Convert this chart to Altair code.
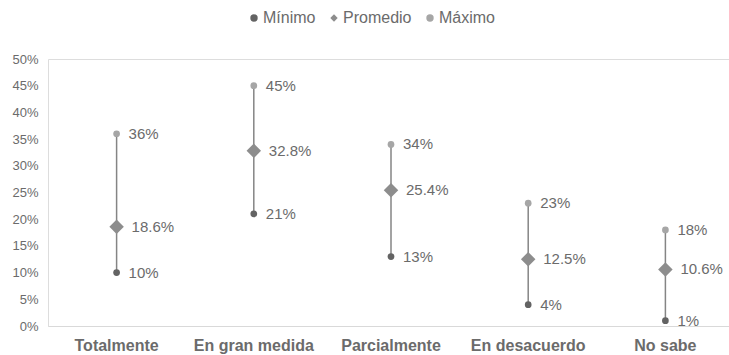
import altair as alt
import pandas as pd

categorias = ["Totalmente", "En gran medida", "Parcialmente", "En desacuerdo", "No sabe"]
minimo = [10, 21, 13, 4, 1]
promedio = [18.6, 32.8, 25.4, 12.5, 10.6]
maximo = [36, 45, 34, 23, 18]
series = ["Mínimo", "Promedio", "Máximo"]
y_ticks = [0, 5, 10, 15, 20, 25, 30, 35, 40, 45, 50]

rows = []
for i, c in enumerate(categorias):
    for s, v in zip(series, [minimo[i], promedio[i], maximo[i]]):
        rows.append({"Categoria": c, "Serie": s, "Valor": v, "Etiqueta": f"{v:g}%"})
long_df = pd.DataFrame(rows)
range_df = pd.DataFrame({"Categoria": categorias, "Min": minimo, "Max": maximo})

FONT = "Liberation Sans"
x_scale = alt.Scale(domain=categorias, range=[0, 686], paddingInner=0, paddingOuter=0)
x_axis = alt.Axis(labelAngle=0, labelFontWeight="bold", labelFontSize=16,
                  labelColor="#6b6b6b", ticks=False, domainColor="#d9d9d9",
                  labelPadding=11, labelFont=FONT)
y_scale = alt.Scale(domain=[0, 50], nice=False)
y_axis = alt.Axis(values=y_ticks, labelExpr="datum.value + '%'", grid=False, domain=False,
                  ticks=False, labelColor="#6b6b6b", labelFontSize=13, labelPadding=10,
                  labelOverlap=False, labelFont=FONT)


def X():
    return alt.X("Categoria:N", sort=categorias, title=None, scale=x_scale, axis=x_axis)


def Y(field):
    return alt.Y(field, scale=y_scale, axis=y_axis, title=None)


rules = alt.Chart(range_df).mark_rule(color="#858585", strokeWidth=1.5).encode(
    x=X(),
    y=Y("Min:Q"),
    y2="Max:Q",
)

color_scale = alt.Scale(domain=series, range=["#636363", "#8d8d8d", "#a6a6a6"])
shape_scale = alt.Scale(domain=series, range=["circle", "diamond", "circle"])

points = alt.Chart(long_df).mark_point(filled=True, opacity=1).encode(
    x=X(),
    y=Y("Valor:Q"),
    color=alt.Color("Serie:N", scale=color_scale, sort=series,
                    legend=alt.Legend(title=None, orient="none", direction="horizontal",
                                      legendX=198, legendY=-49, labelFontSize=16,
                                      labelColor="#6b6b6b", symbolSize=55,
                                      labelOffset=1, columnPadding=10,
                                      labelFont=FONT)),
    shape=alt.Shape("Serie:N", scale=shape_scale, sort=series),
    size=alt.condition("datum.Serie == 'Promedio'", alt.value(210), alt.value(45)),
)

labels_mm = alt.Chart(long_df).transform_filter("datum.Serie != 'Promedio'").mark_text(
    align="left", baseline="middle", dx=12, fontSize=15, color="#6b6b6b", font=FONT
).encode(
    x=X(),
    y=Y("Valor:Q"),
    text="Etiqueta:N",
)
labels_avg = alt.Chart(long_df).transform_filter("datum.Serie == 'Promedio'").mark_text(
    align="left", baseline="middle", dx=15, fontSize=15, color="#6b6b6b", font=FONT
).encode(
    x=X(),
    y=Y("Valor:Q"),
    text="Etiqueta:N",
)

chart = alt.layer(rules, points, labels_mm, labels_avg).properties(
    width=681, height=267,
    autosize=alt.AutoSizeParams(type="none"),
    padding={"left": 48, "top": 59, "right": 0, "bottom": 29},
).configure_view(stroke=None).configure(background="white")

chart.save("out.html", embed_options={"renderer": "svg", "actions": False})
